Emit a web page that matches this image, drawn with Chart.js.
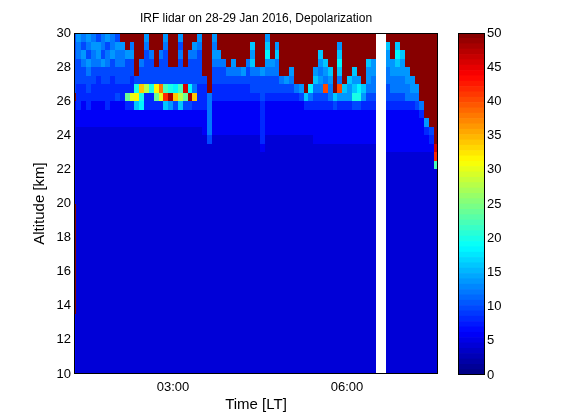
<!DOCTYPE html>
<html lang="en">
<head>
<meta charset="UTF-8" />
<title>IRF lidar on 28-29 Jan 2016, Depolarization</title>
<style>
  body { margin: 0; background: white; }
  #wrap { position: relative; width: 561px; height: 420px; }
  canvas { position: absolute; top: 0; }
  #mainChart { left: 0; }
  #barChart { left: 440px; }
</style>
</head>
<body>
<div id="wrap">
  <canvas id="mainChart" width="440" height="420"></canvas>
  <canvas id="barChart" width="121" height="420"></canvas>
</div>
<script src="https://cdn.jsdelivr.net/npm/chart.js"></script>
<script>
// time axis (hours, local time)
const timeStart = 1.25;         // left edge of first profile
const timeStep = 5 / 60;        // one profile every 5 min
const timeMin = 1.293;
const timeMax = 7.569;
const timeTicks = [3, 6];
const timeTickLabels = ['03:00', '06:00'];

// altitude axis (km)
const altTop = 30;
const altStep = 0.5;
const altMin = 10;
const altTicks = [10, 12, 14, 16, 18, 20, 22, 24, 26, 28, 30];

// colour scale
const depolMax = 50;
const cbarTicks = [0, 5, 10, 15, 20, 25, 30, 35, 40, 45, 50];

// one string per profile, 30 km (left) down to 10 km (right), 0.5 km per char
// char = base-36 digit, depolarization = digit * 2 ('p' = 50), '.' = no data
const profiles = [
  '5555555p33333333 3333ppppppppppppp3333333',
  '7665554443322222 222222222222222222222222',
  '6576554433322222 222222222222222222222222',
  '7657655443322222 222222222222222222222222',
  '6766554433322222 222222222222222222222222',
  '5776544433322222 222222222222222222222222',
  '6657554433322222 222222222222222222222222',
  '7566554443322222 222222222222222222222222',
  '6675544433322222 222222222222222222222222',
  '5766554533322222 222222222222222222222222',
  'p766554433322222 222222222222222222222222',
  'pp75554c43322222 222222222222222222222222',
  'p675544f43322222 222222222222222222222222',
  'ppppp5ag83322222 222222222222222222222222',
  'ppp655ha93322222 222222222222222222222222',
  '765555e443322222 222222222222222222222222',
  'pp6555a443322222 222222222222222222222222',
  'pppp55gc43322222 222222222222222222222222',
  'pp6555jf43322222 222222222222222222222222',
  '765555bl83322222 222222222222222222222222',
  'pppp55ao73322222 222222222222222222222222',
  'pppp559h53322222 222222222222222222222222',
  '756555be83322222 222222222222222222222222',
  'pppp55nc53322222 222222222222222222222222',
  'pp65559o53322222 222222222222222222222222',
  'p765556h43322222 222222222222222222222222',
  '7655554443322222 222222222222222222222222',
  'ppppp54443332222 222222222222222222222222',
  'ppppppp666665222 222222222222222222222222',
  '7676554433332222 222222222222222222222222',
  'pp76554433332222 222222222222222222222222',
  'ppp6554433332222 222222222222222222222222',
  'pppp654433332222 222222222222222222222222',
  'ppp7654433332222 222222222222222222222222',
  'pppp654433332222 222222222222222222222222',
  'pppp754433332222 222222222222222222222222',
  'ppp6554433332222 222222222222222222222222',
  'p878655433332222 222222222222222222222222',
  'pppp655433332222 222222222222222222222222',
  'pppp755544444322 222222222222222222222222',
  '7897655433332222 222222222222222222222222',
  'ppp7655433332222 222222222222222222222222',
  'p786655433332222 222222222222222222222222',
  'ppppp65433332222 222222222222222222222222',
  'ppppp75433332222 222222222222222222222222',
  'pppp765433332222 222222222222222222222222',
  'pppppp6433332222 222222222222222222222222',
  'pppppp7533332222 222222222222222222222222',
  'ppppppp843332222 222222222222222222222222',
  'pppppp9643332222 222222222222222222222222',
  'pppp786543333222 222222222222222222222222',
  'pp87676543333222 222222222222222222222222',
  'ppp876k543333222 222222222222222222222222',
  'pppp876643333222 222222222222222222222222',
  'ppppppp853333222 222222222222222222222222',
  'p78986k743333222 222222222222222222222222',
  'pppppp8743333222 222222222222222222222222',
  'ppppp87743333222 222222222222222222222222',
  'pppp878a53333222 222222222222222222222222',
  'ppppp79a53333222 222222222222222222222222',
  'pppppp8743333222 222222222222222222222222',
  'ppp8776543333222 222222222222222222222222',
  'ppp7766543333222 222222222222222222222222',
  '................ ........................',
  '................ ........................',
  'p877665543333322 222222222222222222222222',
  'ppp7766543333322 222222222222222222222222',
  'p898766543333322 222222222222222222222222',
  'pp87766543333322 222222222222222222222222',
  'pppp776643333322 222222222222222222222222',
  'ppppp77643333322 222222222222222222222222',
  'pppppp7653333322 222222222222222222222222',
  'pppppppp64333322 222222222222222222222222',
  'pppppppppp743322 222222222222222222222222',
  'ppppppppppp54322 222222222222222222222222',
  'pppppppppppppnlb 222222222222222222222222'
];

Chart.defaults.font.family = '"Liberation Sans", Arial, sans-serif';
Chart.defaults.color = '#000';

// matlab style jet, 64 steps
function jet(v) {
  let t = Math.min(Math.max(v / depolMax, 0), 1);
  t = (Math.min(Math.floor(t * 64), 63) + 0.5) / 64;
  const c = x => Math.round(255 * Math.min(Math.max(x, 0), 1));
  const r = c(Math.min(4 * t - 1.5, -4 * t + 4.5));
  const g = c(Math.min(4 * t - 0.5, -4 * t + 3.5));
  const b = c(Math.min(4 * t + 0.5, -4 * t + 2.5));
  return `rgb(${r},${g},${b})`;
}

const frame = {
  id: 'frame',
  afterDraw(chart) {
    const { ctx, chartArea: a } = chart;
    ctx.save();
    ctx.strokeStyle = '#000';
    ctx.lineWidth = 1;
    ctx.strokeRect(Math.round(a.left) + 0.5, Math.round(a.top) + 0.5,
                   Math.round(a.width) - 1, Math.round(a.height) - 1);
    ctx.restore();
  }
};

const heatmap = {
  id: 'heatmap',
  beforeDatasetsDraw(chart) {
    const { ctx, chartArea: a, scales: { x, y } } = chart;
    ctx.save();
    ctx.beginPath();
    ctx.rect(a.left, a.top, a.width, a.height);
    ctx.clip();
    profiles.forEach((p, c) => {
      const prof = p.replace(/ /g, '');
      const x0 = Math.round(x.getPixelForValue(timeStart + c * timeStep));
      const x1 = Math.round(x.getPixelForValue(timeStart + (c + 1) * timeStep));
      for (let r = 0; r < prof.length; r++) {
        const ch = prof[r];
        if (ch === '.') continue;
        const y0 = Math.round(y.getPixelForValue(altTop - r * altStep));
        const y1 = Math.round(y.getPixelForValue(altTop - (r + 1) * altStep));
        ctx.fillStyle = jet(parseInt(ch, 36) * 2);
        ctx.fillRect(x0, y0, x1 - x0, y1 - y0);
      }
    });
    ctx.restore();
  }
};

const mainCtx = document.getElementById('mainChart').getContext('2d');
new Chart(mainCtx, {
  type: 'scatter',
  data: { datasets: [] },
  options: {
    responsive: false,
    animation: false,
    layout: { padding: { left: 0, right: 2, top: 0, bottom: 0 } },
    plugins: {
      legend: { display: false },
      tooltip: { enabled: false },
      title: {
        display: true,
        text: 'IRF lidar on 28-29 Jan 2016, Depolarization',
        fullSize: false,
        font: { size: 12, weight: 'normal' },
        padding: { top: 11, bottom: 7.6 }
      }
    },
    scales: {
      x: {
        type: 'linear',
        min: timeMin,
        max: timeMax,
        afterBuildTicks: s => { s.ticks = timeTicks.map(v => ({ value: v })); },
        ticks: {
          callback: v => timeTickLabels[timeTicks.indexOf(v)],
          font: { size: 13 },
          padding: 6,
          maxRotation: 0
        },
        grid: { display: false, drawTicks: false },
        border: { display: false },
        title: { display: true, text: 'Time [LT]', font: { size: 15 }, padding: { top: 0, bottom: 6 } },
        afterFit: s => { s.height = 46; }
      },
      y: {
        type: 'linear',
        min: altMin,
        max: altTop,
        afterBuildTicks: s => { s.ticks = altTicks.map(v => ({ value: v })); },
        ticks: { font: { size: 13 }, padding: 3 },
        grid: { display: false, drawTicks: false },
        border: { display: false },
        title: { display: true, text: 'Altitude [km]', font: { size: 15 }, padding: { top: 31, bottom: 0 } },
        afterFit: s => { s.width = 74; }
      }
    }
  },
  plugins: [heatmap, frame]
});

// colour bar
const levels = 64;
const barCtx = document.getElementById('barChart').getContext('2d');
new Chart(barCtx, {
  type: 'bar',
  data: {
    labels: [''],
    datasets: Array.from({ length: levels }, (_, k) => ({
      data: [depolMax / levels],
      backgroundColor: jet((k + 0.5) * depolMax / levels),
      borderWidth: 0,
      barPercentage: 1,
      categoryPercentage: 1
    }))
  },
  options: {
    responsive: false,
    animation: false,
    layout: { padding: { left: 18, right: 0, top: 33, bottom: 45 } },
    plugins: { legend: { display: false }, tooltip: { enabled: false } },
    scales: {
      x: { stacked: true, display: false },
      y: {
        stacked: true,
        position: 'right',
        min: 0,
        max: depolMax,
        afterBuildTicks: s => { s.ticks = cbarTicks.map(v => ({ value: v })); },
        ticks: { font: { size: 13 }, padding: 2 },
        grid: { display: false, drawTicks: false },
        border: { display: false },
        afterFit: s => { s.width = 76; }
      }
    }
  },
  plugins: [frame]
});
</script>
</body>
</html>
